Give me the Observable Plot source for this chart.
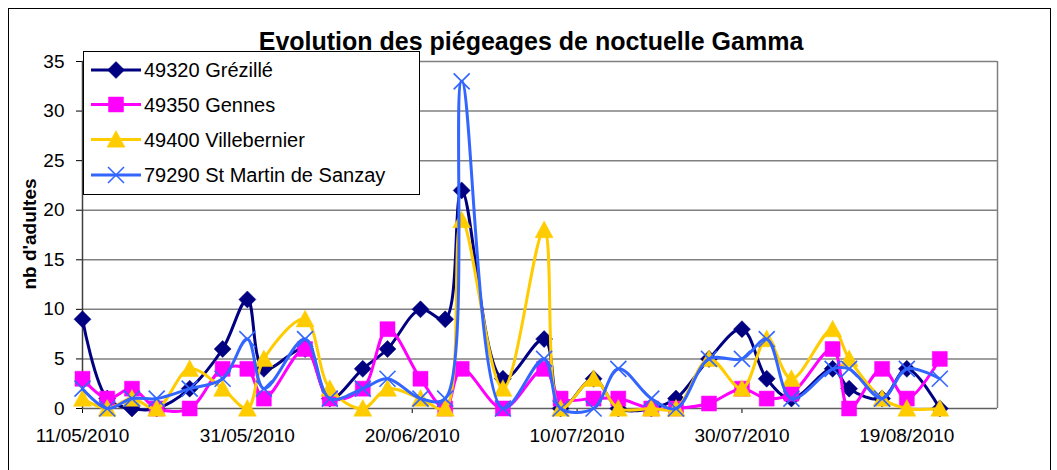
<!DOCTYPE html>
<html>
<head>
<meta charset="utf-8">
<script src="https://cdn.jsdelivr.net/npm/d3@7"></script>
<script src="https://cdn.jsdelivr.net/npm/@observablehq/plot@0.6"></script>
<style>
  html, body { margin: 0; padding: 0; background: #fff; }
  #wrap { position: relative; width: 1057px; height: 470px; overflow: hidden; font-family: "Liberation Sans", Arial, sans-serif; }
  #frame { position: absolute; left: 8px; top: 8px; width: 1043px; height: 480px; border: 1.5px solid #000; box-sizing: border-box; pointer-events: none; }
  #chart { position: absolute; left: 0; top: 0; }
  #overlay { position: absolute; left: 0; top: 0; pointer-events: none; }
</style>
</head>
<body>
<div id="wrap">
  <div id="frame"></div>
  <div id="chart"></div>
  <svg id="overlay" width="1057" height="470"></svg>
</div>
<script>
// ---- data ----
const dates = ["2010-05-11","2010-05-14","2010-05-17","2010-05-20","2010-05-24","2010-05-28","2010-05-31","2010-06-02",
  "2010-06-07","2010-06-10","2010-06-14","2010-06-17","2010-06-21","2010-06-24","2010-06-26","2010-07-01",
  "2010-07-06","2010-07-08","2010-07-12","2010-07-15","2010-07-19","2010-07-22","2010-07-26","2010-07-30",
  "2010-08-02","2010-08-05","2010-08-10","2010-08-12","2010-08-16","2010-08-19","2010-08-23"];
const grezille     = [9,1,0,0,2,6,11,4, 6,1,4,6,10,9,22,3, 7,0,3,0,0,1,5,8, 3,1,4,2,1,4,0];
const gennes       = [3,1,2,0,0,4,4,1, 6,1,2,8,3,0,4,0, 4,1,1,1,0,0,0.5,2, 1,1.5,6,0,4,1,5];
const villebernier = [1,0,1,0,4,2,0,5, 9,2,0,2,1,0,19,2, 18,0,3,0,0,0,5,2, 7,3,8,5,1,0,0];
const stmartin     = [2,0,1,1,2,3,7,2, 7,1,2,3,1,1,33,0, 5,0,0,4,1,0,5,5, 7,1,4,4,1,4,3];
const seriesNames  = ["49320 Grézillé","49350 Gennes","49400 Villebernier","79290 St Martin de Sanzay"];
const seriesColors = ["#000080","#FF00FF","#FFCC00","#3366FF"];
const yTicks = [0,5,10,15,20,25,30,35];
const xTickLabels = ["2010-05-11","2010-05-31","2010-06-20","2010-07-10","2010-07-30","2010-08-19"];
const xDomain = ["2010-05-11","2010-08-30"];
const titleText = "Evolution des piégeages de noctuelle Gamma";
const yLabelText = "nb d'adultes";

// ---- marker shapes ----
const diamondSym = {draw(ctx, size){ const r = Math.sqrt(size/Math.PI); ctx.moveTo(0,-r); ctx.lineTo(r,0); ctx.lineTo(0,r); ctx.lineTo(-r,0); ctx.closePath(); }};
const squareSym  = {draw(ctx, size){ const r = Math.sqrt(size/Math.PI); ctx.moveTo(-r,-r); ctx.lineTo(r,-r); ctx.lineTo(r,r); ctx.lineTo(-r,r); ctx.closePath(); }};
const triSym     = {draw(ctx, size){ const r = Math.sqrt(size/Math.PI); ctx.moveTo(0,-r); ctx.lineTo(r,0.85*r); ctx.lineTo(-r,0.85*r); ctx.closePath(); }};
const xSym       = {draw(ctx, size){ const r = Math.sqrt(size/Math.PI); ctx.moveTo(-r,-r); ctx.lineTo(r,r); ctx.moveTo(r,-r); ctx.lineTo(-r,r); }};
const symbols = [diamondSym, squareSym, triSym, xSym];
const symR = [8.5, 7.5, 9, 8];

const parse = s => new Date(s + "T00:00:00Z");
const allValues = [grezille, gennes, villebernier, stmartin];
const seriesData = allValues.map((vals, k) => dates.map((d, i) => ({date: parse(d), value: vals[i], series: seriesNames[k]})));

const marks = [
  Plot.ruleY(yTicks.filter(v => v > 0), {stroke: "#808080", strokeWidth: 1.5}),
  Plot.ruleX([parse(xDomain[1])], {stroke: "#808080", strokeWidth: 1.5}),
  Plot.ruleY([0], {stroke: "#606060", strokeWidth: 1.5}),
  Plot.ruleX([parse(xDomain[0])], {stroke: "#404040", strokeWidth: 1.5})
];
seriesData.forEach((data, k) => {
  marks.push(Plot.line(data, {x: "date", y: "value", stroke: seriesColors[k], strokeWidth: 3, curve: "catmull-rom"}));
  const isX = k === 3;
  marks.push(Plot.dot(data, {x: "date", y: "value", symbol: symbols[k], r: symR[k],
    fill: isX ? "none" : seriesColors[k], stroke: seriesColors[k], strokeWidth: isX ? 1.6 : 0.5}));
});

const chart = Plot.plot({
  width: 1057, height: 470,
  marginLeft: 82, marginRight: 60, marginTop: 61, marginBottom: 62,
  style: {fontFamily: "'Liberation Sans', Arial, sans-serif", fontSize: "19px", color: "#000", background: "transparent"},
  x: {type: "utc", domain: xDomain.map(parse), ticks: xTickLabels.map(parse), tickFormat: d3.utcFormat("%d/%m/%Y"), tickSize: 5, tickPadding: 15, label: null},
  y: {domain: [0, 35], ticks: yTicks, tickSize: 6, tickPadding: 12, label: null},
  marks
});
document.getElementById("chart").appendChild(chart);

// ---- overlay: title, y label, legend ----
const ov = d3.select("#overlay");
ov.append("text").attr("x", 531).attr("y", 50).attr("text-anchor", "middle")
  .attr("font-family", "'Liberation Sans', Arial, sans-serif").attr("font-weight", "bold").attr("font-size", 25)
  .text(titleText);
ov.append("text").attr("transform", "translate(36,234) rotate(-90)").attr("text-anchor", "middle")
  .attr("font-family", "'Liberation Sans', Arial, sans-serif").attr("font-weight", "bold").attr("font-size", 19)
  .text(yLabelText);

const lg = ov.append("g");
lg.append("rect").attr("x", 83.5).attr("y", 51.5).attr("width", 336).attr("height", 143).attr("fill", "#fff").attr("stroke", "#000").attr("stroke-width", 1);
const rowY = [70, 104.5, 139.5, 175];
seriesNames.forEach((name, k) => {
  const y = rowY[k];
  lg.append("line").attr("x1", 91).attr("x2", 141).attr("y1", y).attr("y2", y).attr("stroke", seriesColors[k]).attr("stroke-width", 3);
  const isX = k === 3;
  lg.append("path").attr("transform", `translate(116,${y})`)
    .attr("d", d3.symbol(symbols[k], Math.PI * symR[k] * symR[k])())
    .attr("fill", isX ? "none" : seriesColors[k]).attr("stroke", seriesColors[k]).attr("stroke-width", isX ? 1.6 : 0.5);
  lg.append("text").attr("x", 144).attr("y", y).attr("dy", "0.36em")
    .attr("font-family", "'Liberation Sans', Arial, sans-serif").attr("font-size", 20).text(name);
});
</script>
</body>
</html>
